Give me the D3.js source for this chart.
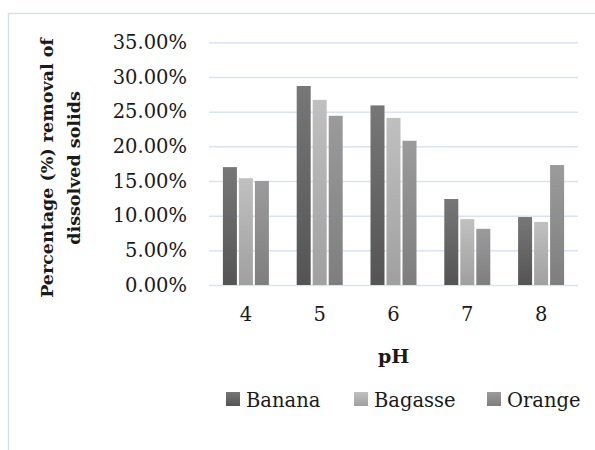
<!DOCTYPE html>
<html>
<head>
<meta charset="utf-8">
<script src="https://cdn.jsdelivr.net/npm/d3@7"></script>
<style>
  html, body { margin: 0; padding: 0; background: #fff; }
  svg { display: block; }
  text { font-family: "DejaVu Serif", "Liberation Serif", serif; fill: #1a1a1a; }
</style>
</head>
<body>
<svg id="chart" width="595" height="450"></svg>
<script>
// pH levels tested
const categories = ["4", "5", "6", "7", "8"];
// adsorbents
const seriesNames = ["Banana", "Bagasse", "Orange"];
// percentage removal of dissolved solids (fractions)
const banana  = [0.170, 0.287, 0.259, 0.124, 0.098];
const bagasse = [0.154, 0.267, 0.241, 0.095, 0.091];
const orange  = [0.150, 0.244, 0.208, 0.081, 0.173];
const yTicks  = [0, 0.05, 0.10, 0.15, 0.20, 0.25, 0.30, 0.35];

const seriesValues = [banana, bagasse, orange];
const gradStops = [
  ["#777777", "#545454"],
  ["#c0c0c0", "#a0a0a0"],
  ["#9b9b9b", "#7e7e7e"]
];

const svg = d3.select("#chart");

// chart frame
svg.append("rect")
  .attr("x", 8.5).attr("y", 13.5)
  .attr("width", 600).attr("height", 450)
  .attr("fill", "none")
  .attr("stroke", "#d6dee8")
  .attr("stroke-width", 1.5);

const plot = { left: 209, right: 578, top: 42.3, bottom: 285 };

const x0 = d3.scaleBand().domain(categories).range([plot.left, plot.right]).padding(0);
const groupWidth = 46;
const x1 = d3.scaleBand().domain(seriesNames).range([0, groupWidth])
  .paddingInner(2 / 16).paddingOuter(0);
const y = d3.scaleLinear().domain([0, 0.35]).range([plot.bottom, plot.top]);

// gradients
const defs = svg.append("defs");
seriesNames.forEach((name, i) => {
  const g = defs.append("linearGradient")
    .attr("id", "grad" + i)
    .attr("x1", 0).attr("y1", 0).attr("x2", 0).attr("y2", 1);
  g.append("stop").attr("offset", "0%").attr("stop-color", gradStops[i][0]);
  g.append("stop").attr("offset", "100%").attr("stop-color", gradStops[i][1]);
});

// gridlines + y tick labels
const yAxis = d3.axisLeft(y)
  .tickValues(yTicks)
  .tickFormat(d3.format(".2%"))
  .tickSize(-(plot.right - plot.left))
  .tickPadding(22);
const gy = svg.append("g")
  .attr("transform", `translate(${plot.left},0)`)
  .call(yAxis);
gy.select(".domain").remove();
gy.selectAll(".tick line")
  .attr("stroke", "#d9e3f1")
  .attr("stroke-width", 1.5);
gy.selectAll(".tick text")
  .attr("font-size", 19.5)
  .attr("font-family", "DejaVu Serif, serif")
  .attr("fill", "#1a1a1a");

// bars
const groups = svg.append("g").selectAll("g")
  .data(categories)
  .join("g")
  .attr("transform", d => `translate(${x0(d) + (x0.bandwidth() - groupWidth) / 2},0)`);

groups.selectAll("rect")
  .data((d, ci) => seriesNames.map((s, si) => ({ s, si, v: seriesValues[si][ci] })))
  .join("rect")
  .attr("x", d => x1(d.s))
  .attr("width", x1.bandwidth())
  .attr("y", d => y(d.v))
  .attr("height", d => y(0) - y(d.v))
  .attr("fill", d => `url(#grad${d.si})`);

// x category labels
const xAxis = d3.axisBottom(x0).tickSize(0).tickPadding(22);
const gx = svg.append("g")
  .attr("transform", `translate(0,${plot.bottom})`)
  .call(xAxis);
gx.select(".domain").remove();
gx.selectAll(".tick text")
  .attr("font-size", 19.5)
  .attr("font-family", "DejaVu Serif, serif")
  .attr("fill", "#1a1a1a");

// x axis title
svg.append("text")
  .attr("x", (plot.left + plot.right) / 2)
  .attr("y", 363)
  .attr("text-anchor", "middle")
  .attr("font-size", 19)
  .attr("font-weight", "bold")
  .text("pH");

// y axis title (two lines, rotated)
const yt = svg.append("text")
  .attr("transform", "translate(0,168) rotate(-90)")
  .attr("text-anchor", "middle")
  .attr("font-size", 17.5)
  .attr("font-weight", "bold");
yt.append("tspan").attr("x", 0).attr("y", 53).text("Percentage (%) removal of");
yt.append("tspan").attr("x", 0).attr("y", 80).text("dissolved solids");

// legend
const legendX = [226, 354, 487];
const lg = svg.append("g").selectAll("g")
  .data(seriesNames)
  .join("g")
  .attr("transform", (d, i) => `translate(${legendX[i]},392)`);
lg.append("rect")
  .attr("width", 14).attr("height", 14)
  .attr("fill", (d, i) => `url(#grad${i})`);
lg.append("text")
  .attr("x", 20).attr("y", 14.5)
  .attr("font-size", 19.5)
  .text(d => d);
</script>
</body>
</html>
